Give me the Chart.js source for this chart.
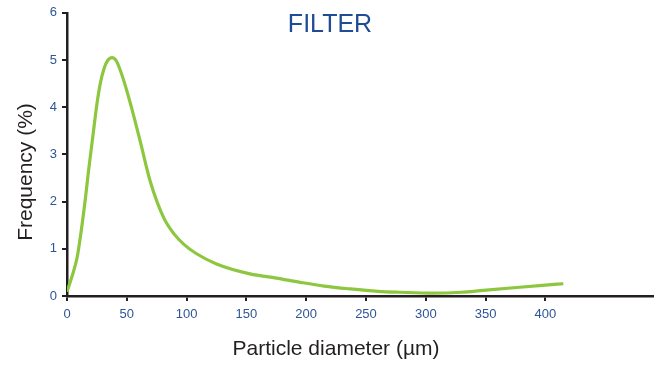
<!DOCTYPE html>
<html>
<head>
<meta charset="utf-8">
<script src="https://cdn.jsdelivr.net/npm/chart.js@4.4.1/dist/chart.umd.min.js"></script>
<style>
  html, body { margin: 0; padding: 0; background: #fff; }
  #wrap { width: 661px; height: 365px; }
</style>
</head>
<body>
<div id="wrap"><canvas id="chart" width="661" height="365"></canvas></div>
<script>
// particle size distribution
const diameters = [0, 4, 8.5, 12, 15.4, 18, 21, 23, 25.2, 27.9, 31, 34, 37.7, 41, 44, 47, 50, 54.4, 61.4, 69.7, 80.8, 90, 97.5, 108, 125, 153, 175, 195, 215, 237, 260, 278, 306, 330, 348, 376, 400, 415];
const frequency = [0.09, 0.4, 0.82, 1.4, 2.07, 2.65, 3.26, 3.67, 4.1, 4.51, 4.82, 4.99, 5.05, 4.99, 4.82, 4.6, 4.35, 3.95, 3.26, 2.42, 1.66, 1.3, 1.1, 0.9, 0.68, 0.47, 0.38, 0.29, 0.21, 0.15, 0.1, 0.08, 0.06, 0.08, 0.12, 0.18, 0.23, 0.26];
const xTicks = [0, 50, 100, 150, 200, 250, 300, 350, 400];
const yTicks = [0, 1, 2, 3, 4, 5, 6];

const FONT = '"Liberation Sans", Arial, Helvetica, sans-serif';
const tickBlue = '#2d5597';
const titleBlue = '#1f4c94';
const axisColor = '#231f20';

// title and axis titles are placed where the reference has them, not centred on the plot
const labelsPlugin = {
    id: 'labels',
    afterDraw(chart) {
        const ctx = chart.ctx;
        ctx.save();
        ctx.textAlign = 'center';
        ctx.textBaseline = 'middle';

        ctx.font = '25px ' + FONT;
        ctx.fillStyle = titleBlue;
        ctx.fillText('FILTER', 330, 25);

        ctx.font = '21px ' + FONT;
        ctx.fillStyle = axisColor;
        ctx.fillText('Particle diameter (µm)', 336, 349);

        ctx.translate(26, 172);
        ctx.rotate(-Math.PI / 2);
        ctx.fillText('Frequency (%)', 0, 0);
        ctx.restore();
    }
};

new Chart(document.getElementById('chart').getContext('2d'), {
    type: 'line',
    data: {
        datasets: [{
            data: diameters.map((d, i) => ({ x: d, y: frequency[i] })),
            borderColor: '#8dc63f',
            borderWidth: 3.2,
            pointRadius: 0,
            fill: false,
            cubicInterpolationMode: 'monotone'
        }]
    },
    options: {
        responsive: false,
        animation: false,
        layout: { padding: { top: 9, right: 8, left: 0, bottom: 0 } },
        plugins: { legend: { display: false }, tooltip: { enabled: false } },
        scales: {
            x: {
                type: 'linear',
                min: 0,
                max: 490,
                afterBuildTicks: s => { s.ticks = xTicks.map(v => ({ value: v })); },
                afterFit: s => { s.height = 69; },
                border: { color: axisColor, width: 2.5 },
                grid: { drawOnChartArea: false, drawTicks: true, tickLength: 5, color: axisColor, lineWidth: 2 },
                ticks: { color: tickBlue, font: { family: FONT, size: 13 }, padding: 6, maxRotation: 0 }
            },
            y: {
                min: 0,
                max: 6,
                afterBuildTicks: s => { s.ticks = yTicks.map(v => ({ value: v })); },
                afterFit: s => { s.width = 67; },
                border: { color: axisColor, width: 2.5 },
                grid: { drawOnChartArea: false, drawTicks: true, tickLength: 5, color: axisColor, lineWidth: 2 },
                ticks: { color: tickBlue, font: { family: FONT, size: 13 }, padding: 5 }
            }
        }
    },
    plugins: [labelsPlugin]
});
</script>
</body>
</html>
